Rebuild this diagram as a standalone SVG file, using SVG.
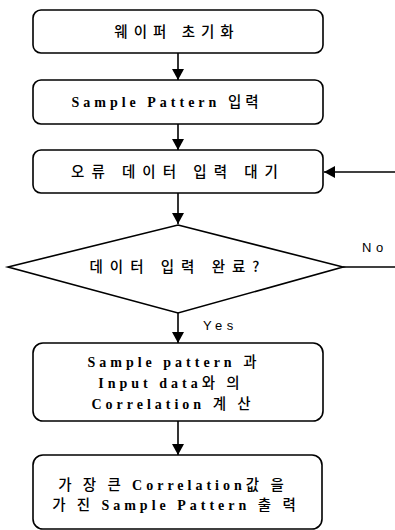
<svg xmlns="http://www.w3.org/2000/svg" width="395" height="530" viewBox="0 0 395 530">
  <style>
    .box { fill: #fff; stroke: #000; stroke-width: 1.6; }
    .line { fill: none; stroke: #000; stroke-width: 1.6; }
    .t { font-family: "Liberation Serif", "Noto Sans CJK KR", serif; font-size: 14px; font-weight: bold; fill: #000; text-anchor: middle; letter-spacing: 4px; }
    .k { font-family: "Noto Sans CJK KR", sans-serif; font-weight: 500; font-size: 14.5px; }
    .lbl { font-family: "Liberation Sans", sans-serif; font-size: 13px; fill: #000; letter-spacing: 4.5px; }
  </style>
  <defs>
    <marker id="arrow" viewBox="0 0 11 12" refX="11" refY="6" markerWidth="11" markerHeight="12" markerUnits="userSpaceOnUse" orient="auto">
      <path d="M0,0 L11,6 L0,12 Z" fill="#000"/>
    </marker>
  </defs>
  <rect width="395" height="530" fill="#fff"/>

  <g id="connectors">
    <line class="line" x1="178" y1="53" x2="178" y2="80" marker-end="url(#arrow)"/>
    <line class="line" x1="178" y1="124" x2="178" y2="150" marker-end="url(#arrow)"/>
    <line class="line" x1="178" y1="193" x2="178" y2="224" marker-end="url(#arrow)"/>
    <line class="line" x1="178" y1="313" x2="178" y2="343" marker-end="url(#arrow)"/>
    <line class="line" x1="178" y1="421" x2="178" y2="455" marker-end="url(#arrow)"/>
    <polyline class="line" points="343,267 395,267"/>
    <line class="line" x1="395" y1="172" x2="324" y2="172" marker-end="url(#arrow)"/>
    <text class="lbl" x="362" y="252">No</text>
    <text class="lbl" x="203" y="330">Yes</text>
  </g>

  <g id="init">
    <rect class="box" x="33" y="10" width="290" height="43" rx="8"/>
    <text class="t k" x="177" y="37" style="letter-spacing:6px">웨이퍼  초기화</text>
  </g>

  <g id="sample-input">
    <rect class="box" x="33" y="80" width="290" height="44" rx="8"/>
    <text class="t" x="167" y="107">Sample Pattern <tspan class="k">입력</tspan></text>
  </g>

  <g id="wait-data">
    <rect class="box" x="33" y="150" width="290" height="43" rx="8"/>
    <text class="t k" x="178" y="177" style="letter-spacing:7px">오류 데이터 입력 대기</text>
  </g>

  <g id="data-done">
    <polygon class="box" points="178,225 343,267 178,313 8,267"/>
    <text class="t k" x="178" y="272" style="letter-spacing:7px">데이터 입력 완료?</text>
  </g>

  <g id="correlation">
    <rect class="box" x="33" y="343" width="290" height="78" rx="10"/>
    <text class="t" x="174" y="367">Sample pattern <tspan class="k">과</tspan></text>
    <text class="t" x="171" y="388">Input data<tspan class="k">와 의</tspan></text>
    <text class="t" x="173" y="409">Correlation <tspan class="k">계 산</tspan></text>
  </g>

  <g id="output">
    <rect class="box" x="33" y="455" width="289" height="74" rx="10"/>
    <text class="t" x="173" y="490"><tspan class="k">가 장 큰 </tspan>Correlation<tspan class="k">값 을</tspan></text>
    <text class="t" x="176" y="510"><tspan class="k">가 진 </tspan>Sample Pattern <tspan class="k">출 력</tspan></text>
  </g>
</svg>
